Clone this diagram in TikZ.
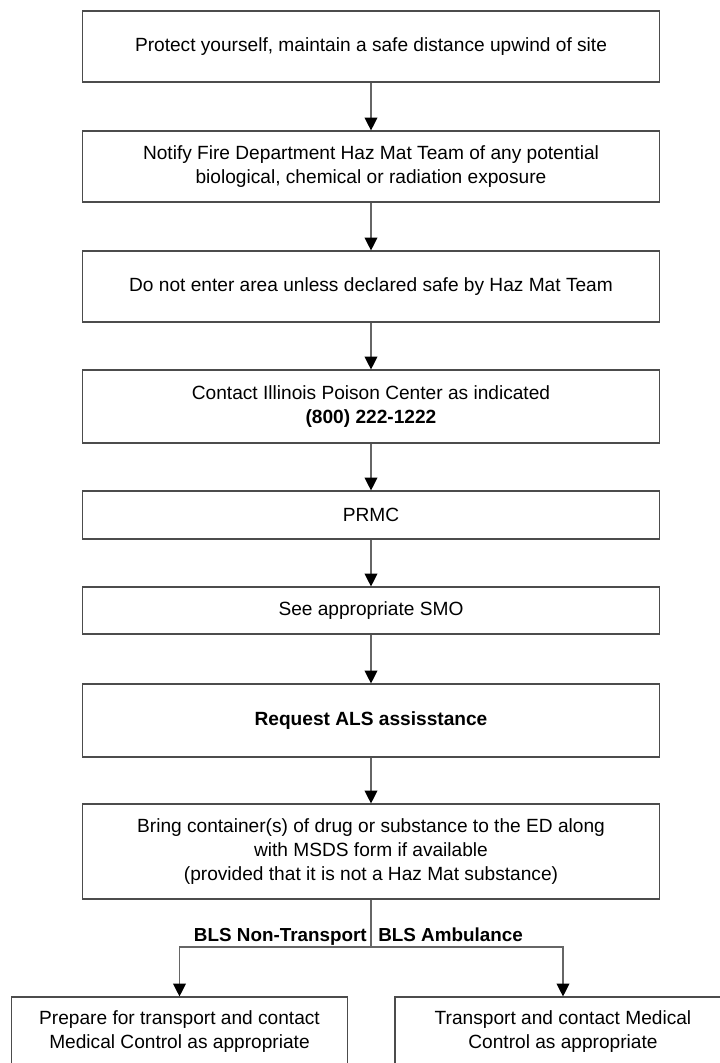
\documentclass[tikz,border=0pt]{standalone}
\usepackage{fontspec}
\setmainfont{Liberation Sans}
\usetikzlibrary{arrows.meta}
\begin{document}
\begin{tikzpicture}[x=0.025cm,y=-0.025cm,
		box/.style={draw=black!70, line width=0.8pt, minimum width=14.4cm, align=center, inner sep=0pt, font=\fontsize{13.6}{16.8}\selectfont},
		half/.style={box, minimum width=8.4cm, minimum height=1.725cm},
		link/.style={draw=black!60, line width=0.8pt},
		arr/.style={link, -{Triangle[width=0.32cm,length=0.32cm,color=black]}},
		lab/.style={font=\fontsize{13.4}{16.8}\selectfont\bfseries, inner sep=0pt}]
		\useasboundingbox (0,0) rectangle (720,1063);
		\node[box, minimum height=1.775cm] (protect) at (371,46.5) {Protect yourself, maintain a safe distance upwind of site};
		\node[box, minimum height=1.775cm] (notify) at (371,166.5) {Notify Fire Department Haz Mat Team of any potential\\biological, chemical or radiation exposure};
		\node[box, minimum height=1.775cm] (enter) at (371,286.5) {Do not enter area unless declared safe by Haz Mat Team};
		\node[box, minimum height=1.825cm] (poison) at (371,406.5) {Contact Illinois Poison Center as indicated\\\textbf{(800) 222-1222}};
		\node[box, minimum height=1.2cm] (prmc) at (371,515) {PRMC};
		\node[box, minimum height=1.175cm] (smo) at (371,610.5) {See appropriate SMO};
		\node[box, minimum height=1.825cm] (als) at (371,720.5) {\textbf{Request ALS assisstance}};
		\node[box, minimum height=2.375cm] (bring) at (371,851.5) {Bring container(s) of drug or substance to the ED along\\with MSDS form if available\\(provided that it is not a Haz Mat substance)};
		\node[half] (prepare) at (179.5,1031.5) {Prepare for transport and contact\\Medical Control as appropriate};
		\node[half] (transport) at (563,1031.5) {Transport and contact Medical\\Control as appropriate};
		\coordinate (fork) at (371,947);
		\draw[arr] (protect) -- (notify);
		\draw[arr] (notify) -- (enter);
		\draw[arr] (enter) -- (poison);
		\draw[arr] (poison) -- (prmc);
		\draw[arr] (prmc) -- (smo);
		\draw[arr] (smo) -- (als);
		\draw[arr] (als) -- (bring);
		\draw[link] (bring) -- (fork);
		\draw[arr] (fork) -| (prepare);
		\draw[arr] (fork) -| (transport);
		\node[lab, anchor=base east] (nontrans) at (367,941) {BLS Non-Transport};
		\node[lab, anchor=base west] (ambul) at (378,941) {BLS Ambulance};
	\end{tikzpicture}
\end{document}
